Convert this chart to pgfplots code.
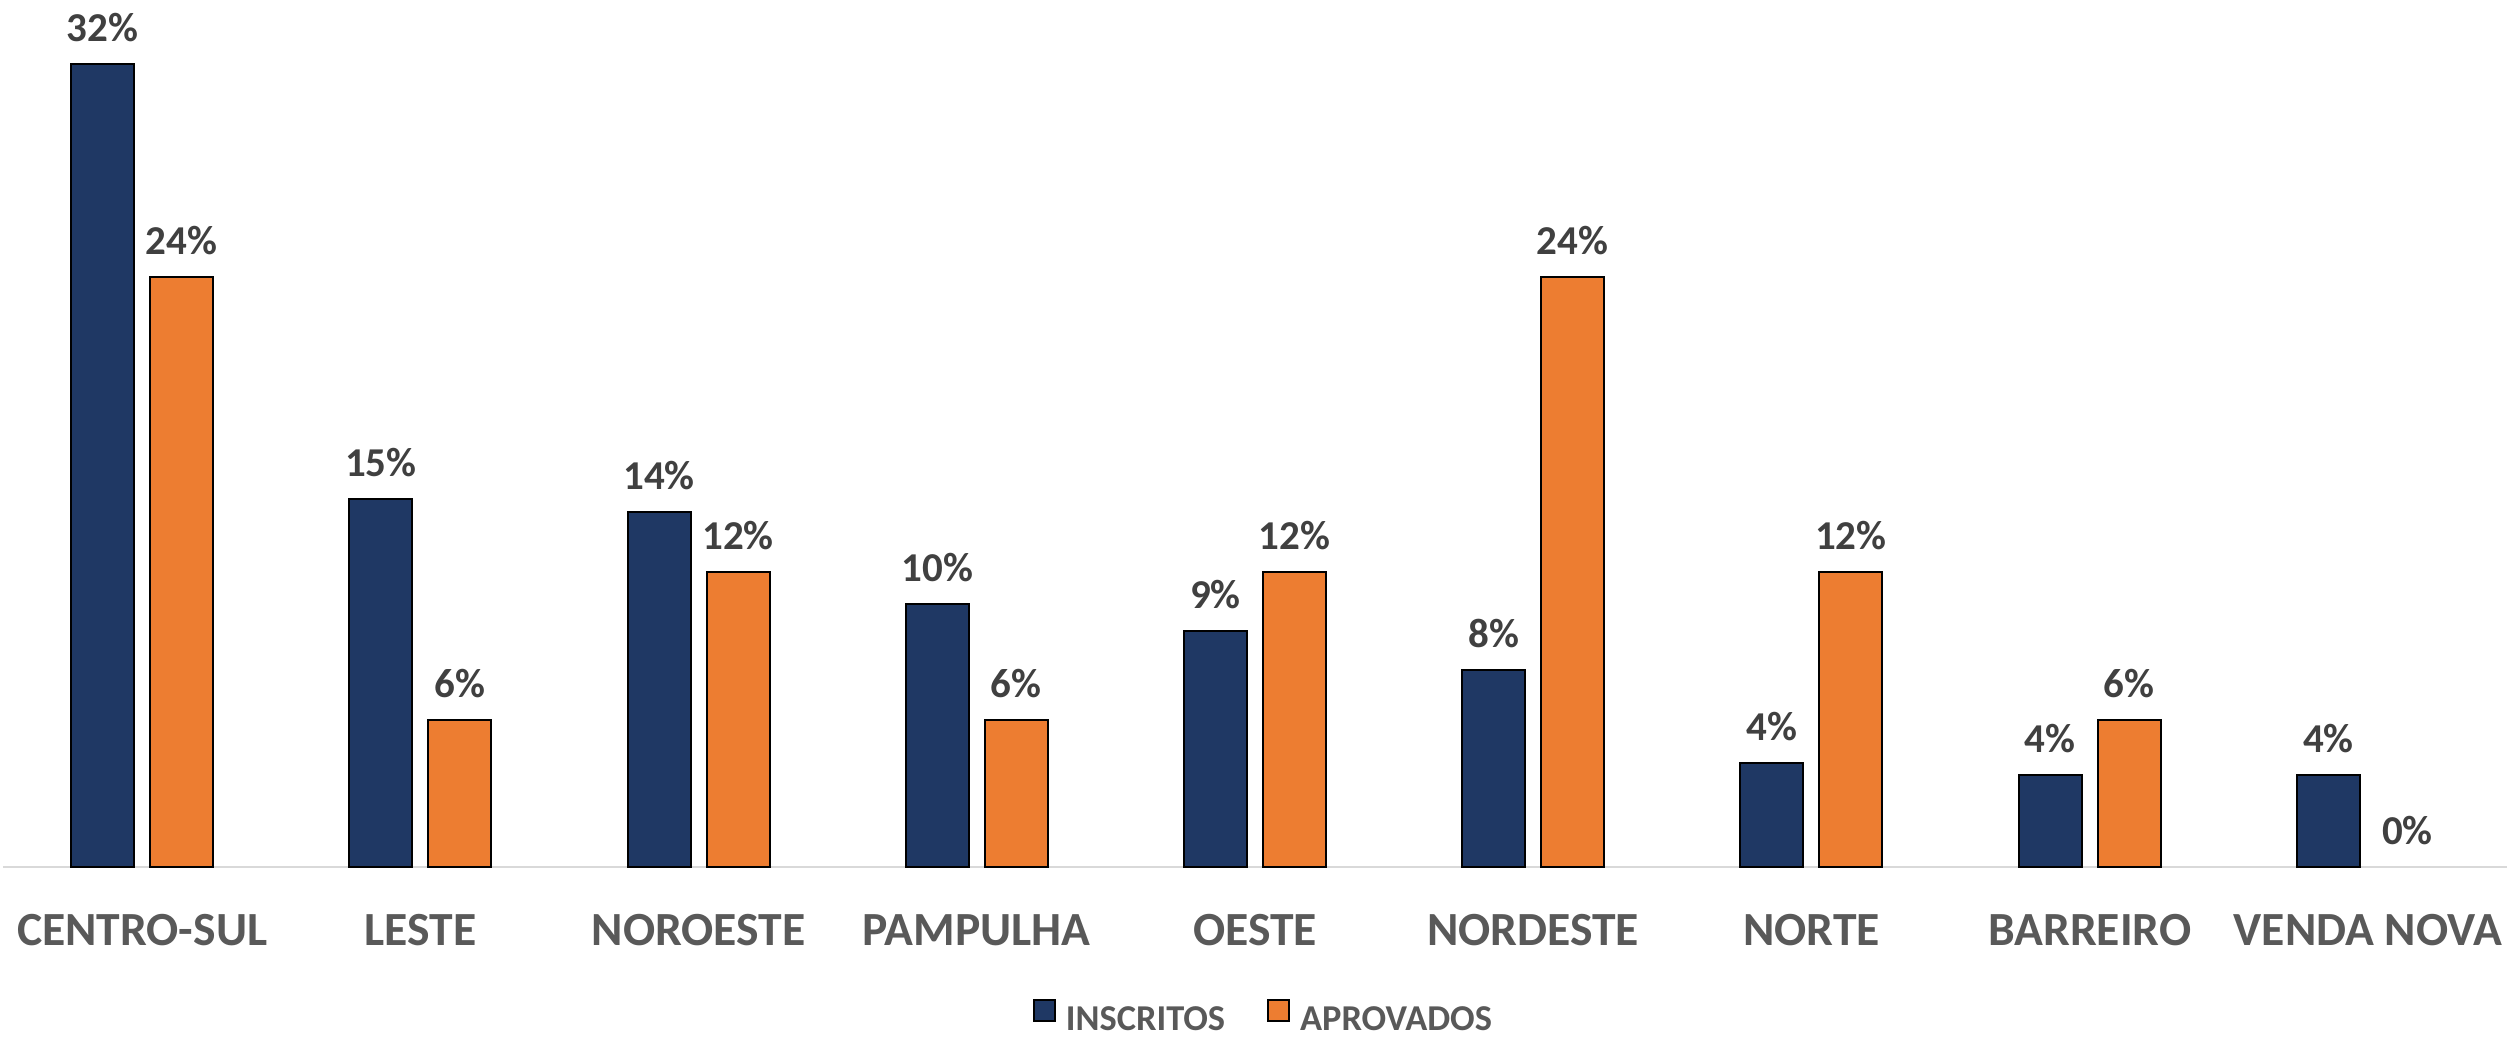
\documentclass[border=0pt]{standalone}
\usepackage{fontspec}
\setmainfont{Carlito}
\usepackage{pgfplots}
\pgfplotsset{compat=1.18}

\definecolor{insc}{HTML}{1F3864}
\definecolor{aprov}{HTML}{ED7D31}
\definecolor{lbl}{HTML}{404040}
\definecolor{catc}{HTML}{595959}
\definecolor{basec}{HTML}{D9D9D9}

\begin{document}
\begin{tikzpicture}
\useasboundingbox (-0.75pt,-42.5pt) rectangle (626.5pt,216.75pt);
\begin{axis}[
  scale only axis,
  width=626pt, height=216.225pt,
  xmin=-0.5, xmax=8.5,
  ymin=0, ymax=34.5,
  axis y line=none,
  axis x line*=bottom,
  x axis line style={draw=basec, line width=0.6pt},
  ybar, bar width=15.75pt,
  xtick={0,...,8},
  xticklabels={CENTRO-SUL,LESTE,NOROESTE,PAMPULHA,OESTE,NORDESTE,NORTE,BARREIRO,VENDA NOVA},
  major tick length=0pt,
  xticklabel style={font=\bfseries\fontsize{11.9}{14}\selectfont, text=catc,
    anchor=base, inner sep=0pt, yshift=-19.75pt},
  nodes near coords={\pgfmathprintnumber[fixed,precision=0,assume math mode=true]{\pgfplotspointmeta}\%},
  every node near coord/.append style={font=\bfseries\fontsize{10.25}{12}\selectfont,
    text=lbl, inner sep=0pt, anchor=south, yshift=5.25pt},
  clip=false,
  legend columns=2,
  legend image code/.code={\draw[#1,line width=0.5pt] (0pt,0pt) rectangle (5.25pt,5.25pt);},
  legend style={draw=none, fill=none, inner sep=0pt, at={(0.503,0)}, anchor=south,
    yshift=-42.5pt, nodes={inner sep=0pt},
    font=\bfseries\fontsize{9.1}{11}\selectfont, text=catc,
    /tikz/every odd column/.append style={column sep=2.5pt},
    /tikz/every even column/.append style={column sep=10.5pt}},
]
\addplot[fill=insc, draw=black, line width=0.5pt, bar shift=-9.875pt] coordinates {
  (0,32.03) (1,14.68) (2,14.16) (3,10.49) (4,9.41) (5,7.86) (6,4.15) (7,3.67) (8,3.67)
};
\addplot[fill=aprov, draw=black, line width=0.5pt, bar shift=9.875pt] coordinates {
  (0,23.53) (1,5.88) (2,11.76) (3,5.88) (4,11.76) (5,23.53) (6,11.76) (7,5.88)
};
\addplot[draw=none, fill=none, bar shift=9.875pt, forget plot] coordinates {(8,0)};
\legend{INSCRITOS, APROVADOS}
\end{axis}
\end{tikzpicture}
\end{document}
